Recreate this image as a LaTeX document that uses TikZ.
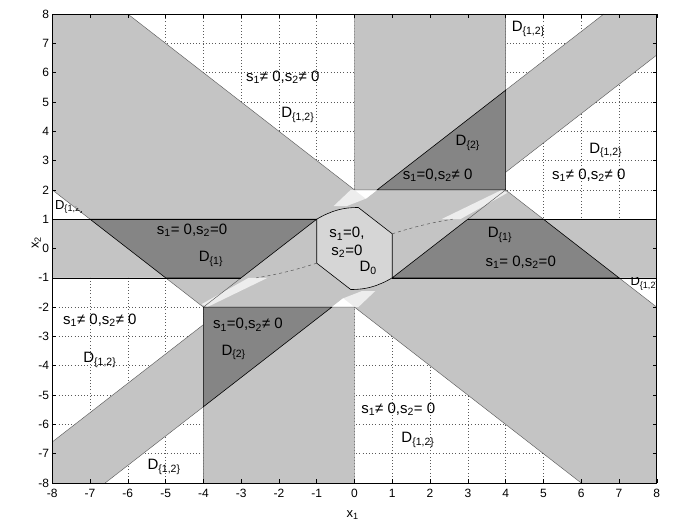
\documentclass[tikz,border=0pt]{standalone}
\usepackage{fontspec}
\setmainfont{Liberation Sans}
\definecolor{lightg}{gray}{0.77}
\definecolor{darkg}{gray}{0.52}
\definecolor{octg}{gray}{0.84}
\definecolor{streakg}{gray}{0.93}
\definecolor{edgeg}{gray}{0.35}
\newcommand{\Dl}[1]{D\textsubscript{\{#1\}}}
\newcommand{\ssub}[1]{s\textsubscript{#1}}
\begin{document}
\begin{tikzpicture}[x=37.78pt,y=29.31pt,
  region/.style={font=\fontsize{15}{16}\selectfont, inner sep=0pt},
  smalllab/.style={font=\fontsize{13}{14}\selectfont, inner sep=0pt},
  tick/.style={font=\fontsize{12}{12}\selectfont, inner sep=1pt},
  axlab/.style={font=\fontsize{13}{13}\selectfont, inner sep=0pt},
  solidline/.style={line width=0.6pt, draw=black},
  edge/.style={line width=0.45pt, draw=edgeg},
  gridline/.style={line width=0.5pt, draw=black!65, dash pattern=on 0.8pt off 2.4pt},
  wpath/.style={insert path={
    (-6,8) -- (0,8) -- (0,2) -- cycle
    (4,8) -- (6.6,8) -- (4,5.4) -- cycle
    (4,2) -- (5,1) -- (8,1) -- (8,6.6) -- (4,2.6) -- cycle
    (-4,-2) -- (-5,-1) -- (-8,-1) -- (-8,-6.6) -- (-4,-2.6) -- cycle
    (6,-8) -- (0,-8) -- (0,-2) -- cycle
    (-4,-8) -- (-6.6,-8) -- (-4,-5.4) -- cycle
    (-8,2) -- (-8,1) -- (-7,1) -- cycle
    (8,-2) -- (8,-1) -- (7,-1) -- cycle}}]
\useasboundingbox (-9.383,-9.400) rectangle (8.483,8.478);
% light gray base
\fill[lightg] (-8,-8) rectangle (8,8);
% white regions
\path[wpath, fill=white];
% grid visible only in white regions
\begin{scope}
  \clip[wpath];
  \foreach \i in {-7,...,7} {
    \draw[gridline] (\i,-8) -- (\i,8);
    \draw[gridline] (-8,\i) -- (8,\i);
  }
\end{scope}
% dark regions
\fill[darkg] (-7,1) -- (-1,1) -- (-3,-1) -- (-5,-1) -- cycle;
\fill[darkg] (7,-1) -- (1,-1) -- (3,1) -- (5,1) -- cycle;
\fill[darkg] (0.6,2) -- (4,2) -- (4,5.4) -- cycle;
\fill[darkg] (-0.6,-2) -- (-4,-2) -- (-4,-5.4) -- cycle;
% whitish streaks and gaps
\fill[streakg] (2.3,1) -- (2.8,1) -- (4.05,1.9) -- (3.9,2) -- cycle;
\fill[streakg] (-2.3,-1) -- (-2.8,-1) -- (-4.05,-1.9) -- (-3.9,-2) -- cycle;
\fill[streakg] (-0.55,1.45) -- (-0.1,2) -- (0.6,2) -- (0.3,1.7) -- (-0.2,1.45) -- cycle;
\fill[streakg] (0.55,-1.45) -- (0.1,-2) -- (-0.6,-2) -- (-0.3,-1.7) -- (0.2,-1.45) -- cycle;
\fill[white] (0,2) -- (0.6,2) -- (0.3,1.7) -- cycle;
\fill[white] (0,-2) -- (-0.6,-2) -- (-0.3,-1.7) -- cycle;
% octagon D0
\path[fill=octg, solidline] (-1,1) .. controls (-0.6,1.3) and (-0.3,1.4) .. (0.1,1.4) -- (1,0.5) -- (1,-1)
  .. controls (0.6,-1.3) and (0.3,-1.4) .. (-0.1,-1.4) -- (-1,-0.5) -- cycle;
% region edges
\draw[edge] (-6,8) -- (0,2) (0,2) -- (0,8) (4,5.4) -- (6.6,8) (4,2.6) -- (8,6.6)
  (4,2) -- (5,1) (-8,2) -- (-7,1) (3,1) -- (4,2) (4,5.4) -- (4,8) (0,2) -- (0.6,2);
\draw[edge] (6,-8) -- (0,-2) (0,-2) -- (0,-8) (-4,-5.4) -- (-6.6,-8) (-4,-2.6) -- (-8,-6.6)
  (-4,-2) -- (-5,-1) (8,-2) -- (7,-1) (-3,-1) -- (-4,-2) (-4,-5.4) -- (-4,-8) (0,-2) -- (-0.6,-2);
\draw[dashed, draw=edgeg, line width=0.5pt] (1,0.5) .. controls (1.6,0.75) and (2.1,0.9) .. (2.6,1.0);
\draw[dashed, draw=edgeg, line width=0.5pt] (-1,-0.5) .. controls (-1.6,-0.75) and (-2.1,-0.9) .. (-2.6,-1.0);
% solid boundaries
\draw[solidline] (-8,1) -- (-1,1) (3,1) -- (8,1) (-8,-1) -- (-3,-1) (1,-1) -- (8,-1);
\draw[solidline] (-7,1) -- (-1,1) -- (-3,-1) -- (-5,-1) -- cycle;
\draw[solidline] (7,-1) -- (1,-1) -- (3,1) -- (5,1) -- cycle;
\draw[solidline] (0.6,2) -- (4,2) -- (4,5.4) -- cycle;
\draw[solidline] (-0.6,-2) -- (-4,-2) -- (-4,-5.4) -- cycle;
% partially hidden small labels in the corner triangles
\begin{scope}
  \clip (-8,2.1) -- (-8,0.95) -- (-6.9,0.95) -- cycle;
  \node[smalllab, anchor=west] (t8) at (-7.93,1.42) {\Dl{1,2}};
\end{scope}
\begin{scope}
  \clip (8,-2.1) -- (8,-0.95) -- (6.9,-0.95) -- cycle;
  \node[smalllab, anchor=west] (t16) at (7.3,-1.2) {\Dl{1,2}};
\end{scope}
% frame and ticks
\draw[line width=0.6pt] (-8,-8) rectangle (8,8);
\foreach \v [count=\k] in {-8,...,8} {
  \draw[line width=0.5pt] (\v,-8) -- (\v,-7.86) (\v,8) -- (\v,7.86);
  \draw[line width=0.5pt] (-8,\v) -- (-7.89,\v) (8,\v) -- (7.89,\v);
  \node[tick, anchor=north] (xl\k) at (\v,-8.17) {\v};
  \node[tick, anchor=east] (yl\k) at (-8.05,\v) {\v};
}
\node[axlab] (xlab) at (-0.05,-9.1) {x\textsubscript{1}};
\node[axlab, rotate=90] (ylab) at (-8.42,0.2) {x\textsubscript{2}};
% region labels
\node[region] (t1) at (-1.9,5.85) {\ssub{1}≠ 0,\ssub{2}≠ 0};
\node[region] (t2) at (-1.5,4.55) {\Dl{1,2}};
\node[region] (t3) at (4.6,7.5) {\Dl{1,2}};
\node[region] (t4) at (3.0,3.6) {\Dl{2}};
\node[region] (t5) at (2.2,2.5) {\ssub{1}=0,\ssub{2}≠ 0};
\node[region] (t6) at (6.65,3.35) {\Dl{1,2}};
\node[region] (t7) at (6.2,2.5) {\ssub{1}≠ 0,\ssub{2}≠ 0};
\node[region] (t9) at (-4.3,0.63) {\ssub{1}= 0,\ssub{2}=0};
\node[region] (t10) at (-3.8,-0.36) {\Dl{1}};
\node[region] (t11) at (-0.2,0.5) {\ssub{1}=0,};
\node[region] (t12) at (-0.2,-0.09) {\ssub{2}=0};
\node[region] (t13) at (0.36,-0.66) {D\textsubscript{0}};
\node[region] (t14) at (3.85,0.46) {\Dl{1}};
\node[region] (t15) at (4.4,-0.46) {\ssub{1}= 0,\ssub{2}=0};
\node[region] (t17) at (-6.74,-2.44) {\ssub{1}≠ 0,\ssub{2}≠ 0};
\node[region] (t18) at (-6.74,-3.8) {\Dl{1,2}};
\node[region] (t19) at (-2.82,-2.6) {\ssub{1}=0,\ssub{2}≠ 0};
\node[region] (t20) at (-3.2,-3.55) {\Dl{2}};
\node[region] (t21) at (-5.04,-7.45) {\Dl{1,2}};
\node[region] (t22) at (1.16,-5.48) {\ssub{1}≠ 0,\ssub{2}= 0};
\node[region] (t23) at (1.68,-6.53) {\Dl{1,2}};
\end{tikzpicture}
\end{document}
